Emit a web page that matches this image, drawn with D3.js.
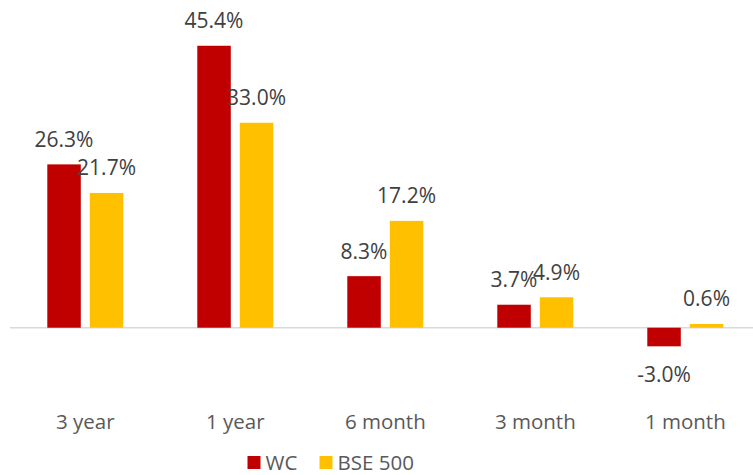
<!DOCTYPE html>
<html><head><meta charset="utf-8">
<script src="https://cdn.jsdelivr.net/npm/d3@7"></script>
<style>body{margin:0;background:#fff}svg{display:block}text{font-family:"Open Sans",sans-serif}</style>
</head><body>
<svg id="c" width="753" height="475"></svg>
<script>
const categories = ["3 year", "1 year", "6 month", "3 month", "1 month"];
const seriesNames = ["WC", "BSE 500"];
const wcValues = [26.3, 45.4, 8.3, 3.7, -3.0];
const bseValues = [21.7, 33.0, 17.2, 4.9, 0.6];
const colors = ["#C00000", "#FFC000"];

const data = categories.map((c, i) => ({cat: c, vals: [wcValues[i], bseValues[i]]}));
const svg = d3.select("#c");
const x = d3.scaleBand().domain(categories).range([10.3, 760.3]).padding(0);
const xs = d3.scaleBand().domain(seriesNames).range([37, 113]).paddingInner(0.212);
const y = d3.scaleLinear().domain([-10, 50]).range([389.8, 17.2]);

svg.append("line").attr("x1", 10).attr("x2", 753).attr("y1", y(0)).attr("y2", y(0))
  .attr("stroke", "#d9d9d9").attr("stroke-width", 1.5);

const g = svg.selectAll("g.cat").data(data).join("g").attr("class", "cat")
  .attr("transform", d => `translate(${x(d.cat)},0)`);

g.selectAll("rect").data(d => d.vals.map((v, k) => ({v, k, s: seriesNames[k]}))).join("rect")
  .attr("x", d => xs(d.s)).attr("width", xs.bandwidth())
  .attr("y", d => y(Math.max(0, d.v))).attr("height", d => Math.abs(y(d.v) - y(0)))
  .attr("fill", d => colors[d.k]);

g.selectAll("text.val").data(d => d.vals.map((v, k) => ({v, k, s: seriesNames[k]}))).join("text")
  .attr("class", "val")
  .attr("x", d => xs(d.s) + xs.bandwidth() / 2)
  .attr("y", d => d.v >= 0 ? y(d.v) - 17.5 : y(d.v) + 35.5)
  .attr("text-anchor", "middle").attr("font-size", 21).attr("fill", "#404040")
  .text(d => d.v.toFixed(1) + "%");

svg.selectAll("text.cat").data(categories).join("text").attr("class", "cat")
  .attr("x", d => x(d) + x.bandwidth() / 2).attr("y", 429)
  .attr("text-anchor", "middle").attr("font-size", 20.5).attr("fill", "#595959")
  .text(d => d);

const legX = [247.5, 319.5];
const leg = svg.selectAll("g.leg").data(seriesNames).join("g").attr("class", "leg")
  .attr("transform", (d, i) => `translate(${legX[i]},0)`);
leg.append("rect").attr("x", 0).attr("y", 456).attr("width", 13).attr("height", 13)
  .attr("fill", (d, i) => colors[i]);
leg.append("text").attr("x", 18).attr("y", 470).attr("font-size", 20.5).attr("fill", "#595959")
  .text(d => d);
</script>
</body></html>
